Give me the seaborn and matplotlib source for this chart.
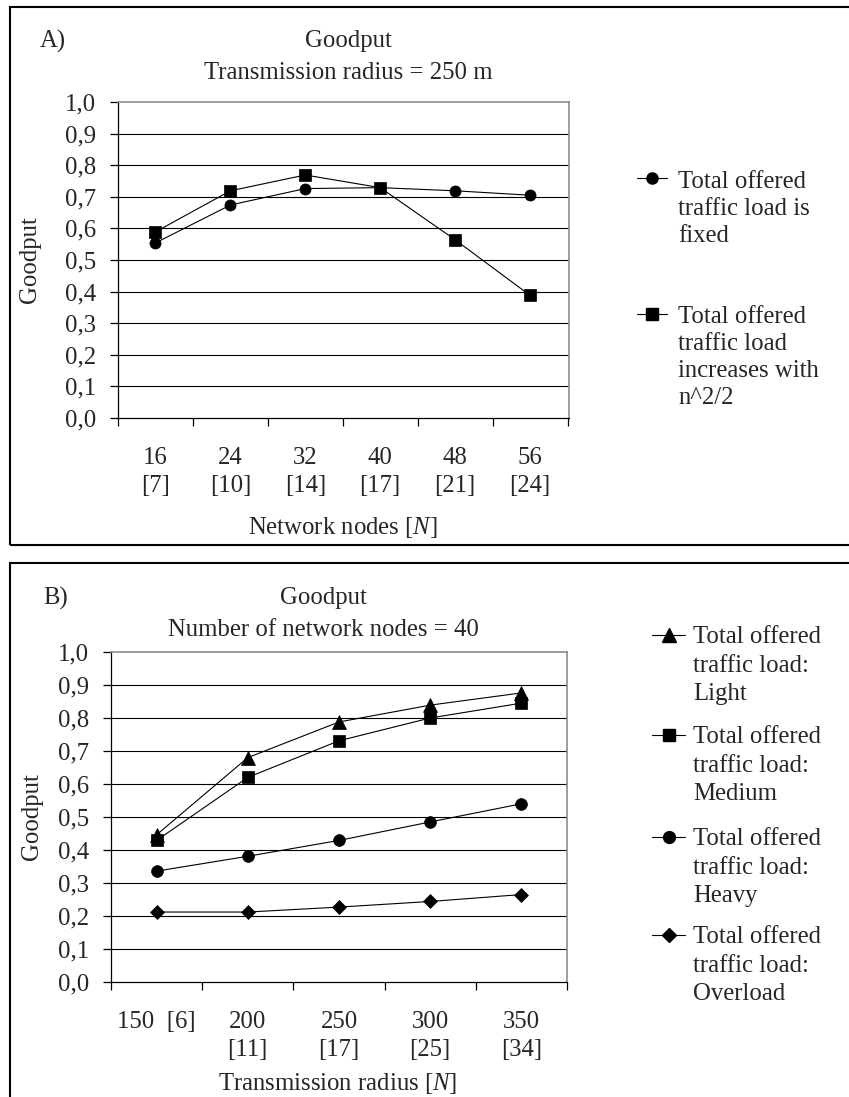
import matplotlib
matplotlib.use("Agg")
import matplotlib.pyplot as plt
from matplotlib.lines import Line2D
from matplotlib.patches import Rectangle
from matplotlib.ticker import FixedLocator, NullFormatter, FixedFormatter
import seaborn as sns

# ---- data -------------------------------------------------------------
nodes_labels = ["16\n[7]", "24\n[10]", "32\n[14]", "40\n[17]", "48\n[21]", "56\n[24]"]
goodput_fixed = [0.554, 0.674, 0.726, 0.729, 0.719, 0.705]
goodput_increasing = [0.589, 0.719, 0.769, 0.729, 0.564, 0.388]

radius_labels = ["150  [6]", "200\n[11]", "250\n[17]", "300\n[25]", "350\n[34]"]
goodput_light = [0.446, 0.680, 0.788, 0.839, 0.876]
goodput_medium = [0.429, 0.620, 0.731, 0.800, 0.845]
goodput_heavy = [0.336, 0.381, 0.429, 0.485, 0.540]
goodput_overload = [0.212, 0.212, 0.227, 0.244, 0.265]

legend_a = ["Total offered\ntraffic load is\nfixed",
            "Total offered\ntraffic load\nincreases with\nn^2/2"]
legend_b = ["Total offered\ntraffic load:\nLight",
            "Total offered\ntraffic load:\nMedium",
            "Total offered\ntraffic load:\nHeavy",
            "Total offered\ntraffic load:\nOverload"]
y_ticks = [round(0.1 * i, 1) for i in range(11)]
y_tick_labels = [f"{v:.1f}".replace(".", ",") for v in y_ticks]

# ---- style ------------------------------------------------------------
sns.set_style("white")
plt.rcParams["font.family"] = ["Liberation Serif", "DejaVu Serif"]
plt.rcParams["mathtext.fontset"] = "custom"
plt.rcParams["mathtext.rm"] = "Liberation Serif"
plt.rcParams["mathtext.it"] = "Liberation Serif:italic"
FS = 17.8

W, H = 849, 1097
fig = plt.figure(figsize=(W / 100, H / 100), dpi=100)


def fx(px):
    return px / W


def fy(py):
    return 1 - py / H


def make_axes(left, right, top, bottom):
    return fig.add_axes([fx(left), fy(bottom), fx(right) - fx(left), (bottom - top) / H])


def style_axes(ax, n_cat, tick_labels, right_edge):
    ax.set_ylim(0, 1.0)
    ax.set_xlim(-0.5, right_edge)
    ax.yaxis.set_major_locator(FixedLocator(y_ticks))
    ax.yaxis.set_major_formatter(FixedFormatter(y_tick_labels))
    # slot boundaries get tick marks, slot centres get the labels
    ax.xaxis.set_major_locator(FixedLocator([i - 0.5 for i in range(n_cat + 1)]))
    ax.xaxis.set_major_formatter(NullFormatter())
    ax.xaxis.set_minor_locator(FixedLocator(list(range(n_cat))))
    ax.xaxis.set_minor_formatter(FixedFormatter(tick_labels))
    ax.tick_params(axis="y", which="major", direction="out", length=5.8, width=0.9,
                   color="black", labelsize=FS, pad=10, left=True)
    ax.tick_params(axis="x", which="major", direction="out", length=5.4, width=0.9,
                   color="black", bottom=True)
    ax.tick_params(axis="x", which="minor", length=0, labelsize=FS, pad=21)
    for lbl in ax.xaxis.get_minorticklabels():
        lbl.set_linespacing(1.35)
    ax.grid(False)
    for v in y_ticks[1:-1]:
        ax.axhline(v, color="black", lw=0.8, zorder=1)
    for side in ("left", "bottom"):
        ax.spines[side].set_color("black")
        ax.spines[side].set_linewidth(0.9)
    for side in ("top", "right"):
        ax.spines[side].set_visible(True)
        ax.spines[side].set_color("#8c8c8c")
        ax.spines[side].set_linewidth(1.2)
    ax.set_xlabel("")
    ax.set_ylabel("")


def draw_series(ax, values, marker, ms):
    sns.lineplot(x=list(range(len(values))), y=values, ax=ax, color="black",
                 linewidth=0.8, marker=marker, markersize=ms,
                 markeredgecolor="black", markerfacecolor="black",
                 markeredgewidth=0.5, zorder=3)


def legend_entry(hx0, hx1, hy, marker, ms, tx, baselines, lines):
    fig.add_artist(Line2D([fx(hx0), fx(hx1)], [fy(hy), fy(hy)], color="black", lw=0.8,
                          transform=fig.transFigure))
    fig.add_artist(Line2D([fx((hx0 + hx1) / 2)], [fy(hy)], color="black", marker=marker,
                          markersize=ms, markerfacecolor="black", markeredgecolor="black",
                          transform=fig.transFigure))
    for b, s in zip(baselines, lines.split("\n")):
        fig.text(fx(tx), fy(b), s, fontsize=FS, ha="left", va="baseline")


# ---- panel frames ------------------------------------------------------
for top, bottom in ((7, 545), (563, 1110)):
    fig.add_artist(Rectangle((fx(10), fy(bottom)), fx(860) - fx(10), (bottom - top) / H,
                             transform=fig.transFigure, fill=False,
                             edgecolor="black", lw=1.5))

# ---- panel A -----------------------------------------------------------
ax_a = make_axes(118, 569, 102, 418)
draw_series(ax_a, goodput_fixed, "o", 8)
draw_series(ax_a, goodput_increasing, "s", 8)
style_axes(ax_a, 6, nodes_labels, 5.52)

fig.text(fx(40), fy(48), "A)", fontsize=FS, ha="left", va="baseline")
fig.text(fx(348), fy(47), "Goodput", fontsize=FS, ha="center", va="baseline")
fig.text(fx(348), fy(79), "Transmission radius = 250 m", fontsize=FS, ha="center", va="baseline")
fig.text(fx(30), fy(260), "Goodput", fontsize=FS, ha="center", va="center", rotation=90)
fig.text(fx(343), fy(534), "Network nodes [$N$]", fontsize=FS, ha="center", va="baseline")

legend_entry(637, 667, 178, "o", 8, 678, [188, 215, 242], legend_a[0])
legend_entry(637, 667, 314, "s", 8, 678, [323, 350, 377, 404], legend_a[1])

# ---- panel B -----------------------------------------------------------
ax_b = make_axes(111, 567, 652, 982)
draw_series(ax_b, goodput_light, "^", 9.5)
draw_series(ax_b, goodput_medium, "s", 8.5)
draw_series(ax_b, goodput_heavy, "o", 8.5)
draw_series(ax_b, goodput_overload, "D", 7.5)
style_axes(ax_b, 5, radius_labels, 4.5)

fig.text(fx(43), fy(605), "B)", fontsize=FS, ha="left", va="baseline")
fig.text(fx(323), fy(604), "Goodput", fontsize=FS, ha="center", va="baseline")
fig.text(fx(323), fy(636), "Number of network nodes = 40", fontsize=FS, ha="center", va="baseline")
fig.text(fx(32), fy(817), "Goodput", fontsize=FS, ha="center", va="center", rotation=90)
fig.text(fx(338), fy(1090), "Transmission radius [$N$]", fontsize=FS, ha="center", va="baseline")

legend_markers = [("^", 9.5), ("s", 8.5), ("o", 8.5), ("D", 7.5)]
first_baselines = [643, 743, 845, 943]
for (mk, ms), b0, text in zip(legend_markers, first_baselines, legend_b):
    legend_entry(652, 685, b0 - 8, mk, ms, 693, [b0, b0 + 28.5, b0 + 57], text)

fig.savefig("out.png", dpi=100)
